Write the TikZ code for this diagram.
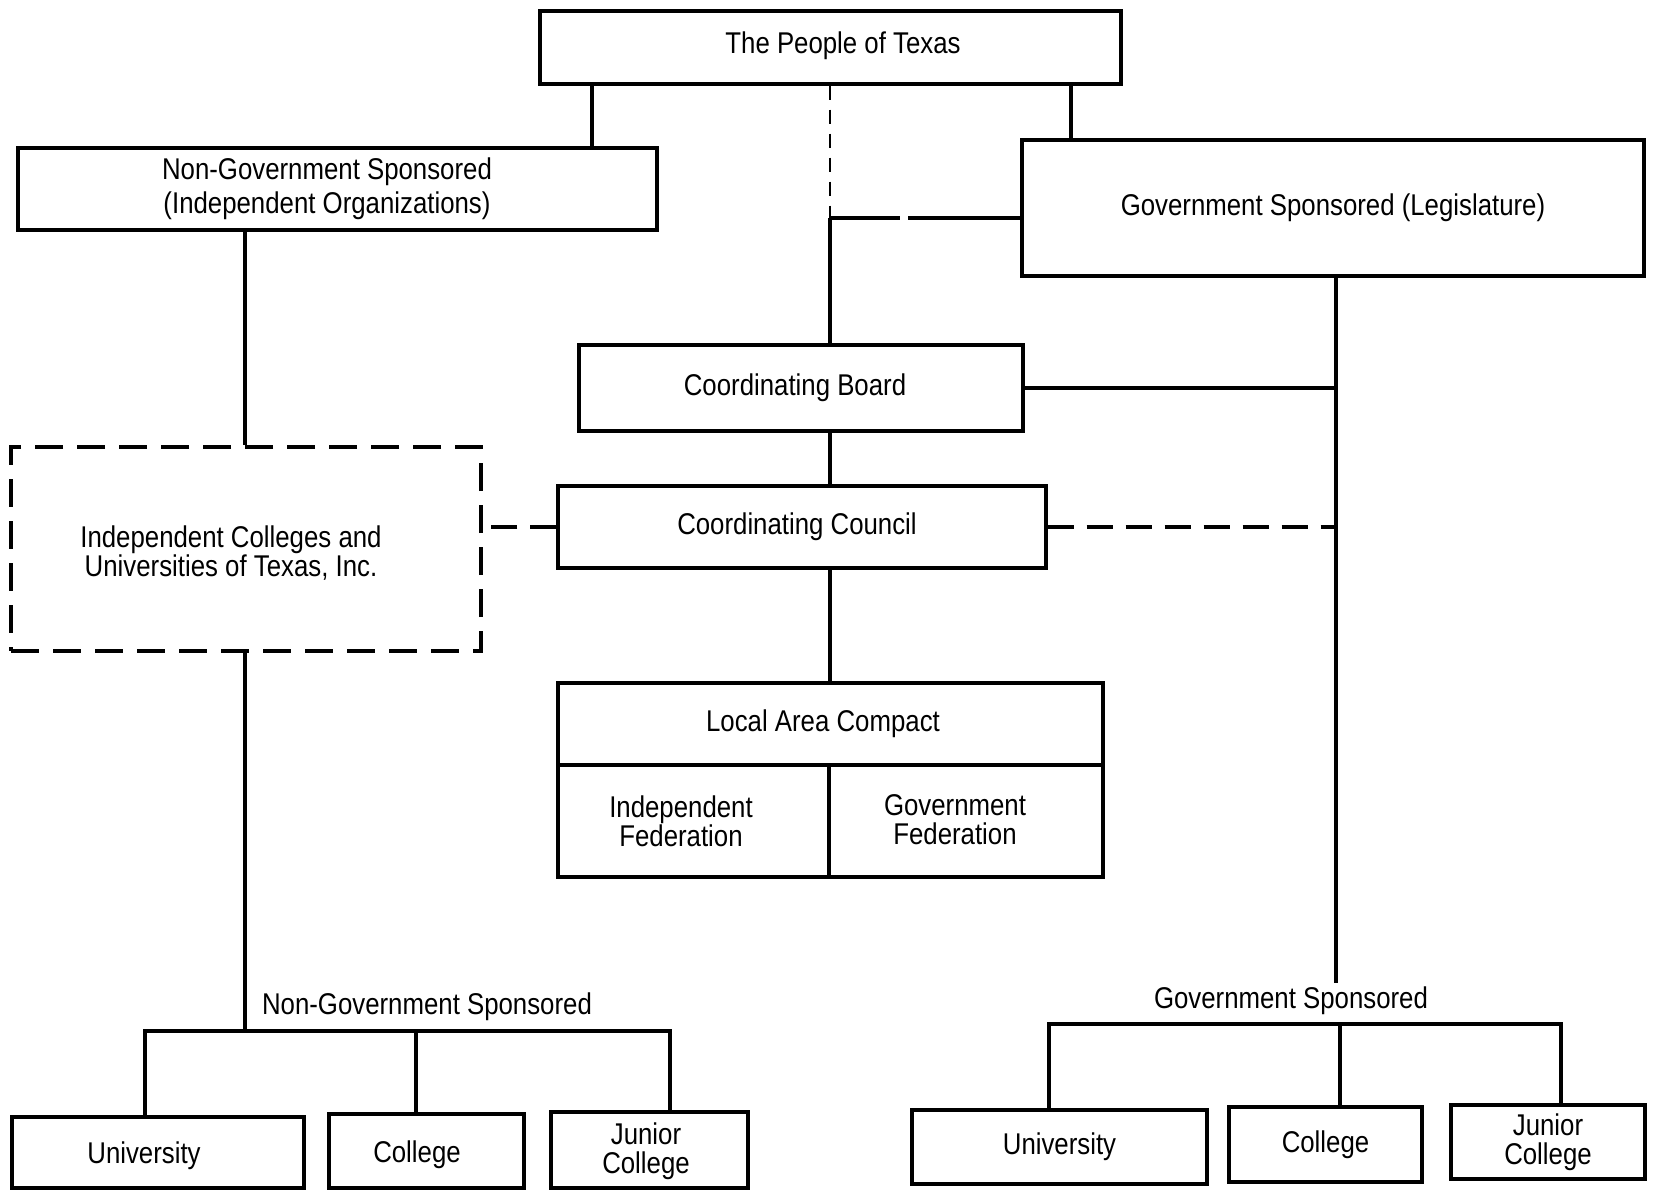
\documentclass[tikz,border=0pt]{standalone}
\usepackage{fontspec}
\setmainfont{Liberation Sans}[FakeStretch=0.86]
\begin{document}
\begin{tikzpicture}[x=1pt,y=-1pt,line width=3.3pt,
  txt/.style={font=\fontsize{30}{29}\selectfont},
  box/.style={draw,rectangle,inner sep=0pt,align=center,txt},
  dbox/.style={box,dash pattern=on 28pt off 14pt},
  lbl/.style={inner sep=0pt,txt},
  dline/.style={dash pattern=on 26pt off 13pt},
  gapline/.style={dash pattern=on 70pt off 8pt on 300pt off 0pt},
  sdash/.style={line width=2.6pt,dash pattern=on 14pt off 10pt}]
\useasboundingbox (0,0) rectangle (1653,1190);
\fill[white] (0,0) rectangle (1653,1190);
% boxes
\node[box,minimum width=581pt,minimum height=73pt] (people) at (830.5,47.5) {};
\node[lbl] (peoplet) at (843,46) {The People of Texas};
\node[box,minimum width=639pt,minimum height=82pt] (nongov) at (337.5,189) {};
\node[lbl,align=center,font=\fontsize{30}{34}\selectfont] (nongovt) at (327,189) {Non-Government Sponsored\\(Independent Organizations)};
\node[box,minimum width=622pt,minimum height=136pt] (gov) at (1333,208) {Government Sponsored (Legislature)};
\node[box,minimum width=444pt,minimum height=86pt] (board) at (801,388) {};
\node[lbl] (boardt) at (795,388) {Coordinating Board};
\node[box,minimum width=488pt,minimum height=82pt] (council) at (802,527) {};
\node[lbl] (councilt) at (797,527) {Coordinating Council};
\node[dbox,minimum width=470pt,minimum height=204pt] (icu) at (246,549) {};
\node[lbl,align=center] (icut) at (231,553) {Independent Colleges and\\Universities of Texas, Inc.};
\node[box,minimum width=545pt,minimum height=82pt] (lactop) at (830.5,724) {};
\node[lbl] (lactopt) at (823,724) {Local Area Compact};
\node[box,minimum width=271pt,minimum height=112pt] (lacl) at (693.5,821) {};
\node[lbl,align=center] (laclt) at (681,821) {Independent\\Federation};
\node[box,minimum width=274pt,minimum height=112pt] (lacr) at (966,821) {};
\node[lbl,align=center] (lacrt) at (955,820) {Government\\Federation};
% bottom left
\node[box,minimum width=292pt,minimum height=71pt] (ng1) at (158,1152.5) {};
\node[lbl] (ng1t) at (144,1156) {University};
\node[box,minimum width=195pt,minimum height=74pt] (ng2) at (426.5,1151) {};
\node[lbl] (ng2t) at (417,1155) {College};
\node[box,minimum width=197pt,minimum height=76pt] (ng3) at (649.5,1150) {};
\node[lbl,align=center] (ng3t) at (646,1151) {Junior\\College};
% bottom right
\node[box,minimum width=295pt,minimum height=74pt] (g1) at (1059.5,1147) {University};
\node[box,minimum width=193pt,minimum height=75pt] (g2) at (1325.5,1144.5) {College};
\node[box,minimum width=194pt,minimum height=74pt] (g3) at (1548,1142) {Junior\\College};
% labels
\node[lbl] (ngl) at (427,1007) {Non-Government Sponsored};
\node[lbl] (gl) at (1291,1001) {Government Sponsored};
% coordinates
\coordinate (xL) at (592,0);
\coordinate (xM) at (830,0);
\coordinate (xR) at (1071,0);
\coordinate (xG) at (1336,0);
\coordinate (xI) at (245,0);
\coordinate (jn) at (830,218);
\coordinate (gend) at (1336,983);
\coordinate (nbar) at (0,1031);
\coordinate (gbar) at (0,1024);
\coordinate (na) at (145,0);
\coordinate (nb) at (416,0);
\coordinate (nc) at (670,0);
\coordinate (ga) at (1049,0);
\coordinate (gb) at (1340,0);
\coordinate (gc) at (1561,0);
% connectors
\draw (people.south -| xL) -- (nongov.north -| xL);
\draw (people.south -| xR) -- (gov.north -| xR);
\draw[sdash] (people.south -| xM) -- (jn);
\draw[gapline] (jn) -- (jn -| gov.west);
\draw (jn) -- (board.north -| xM);
\draw (board.south -| xM) -- (council.north -| xM);
\draw (council.south -| xM) -- (lactop.north -| xM);
\draw (board.east) -- (board.east -| xG);
\draw (gov.south -| xG) -- (gend);
\draw[dline] (council.east) -- (council.east -| xG);
\draw[dline] (council.west) -- (council.west -| icu.east);
\draw (nongov.south -| xI) -- (icu.north -| xI);
\draw (icu.south -| xI) -- (xI |- nbar);
% left bar
\draw (na |- ng1.north) -- (na |- nbar) -- (nc |- nbar) -- (nc |- ng3.north);
\draw (nb |- nbar) -- (nb |- ng2.north);
% right bar
\draw (ga |- g1.north) -- (ga |- gbar) -- (gc |- gbar) -- (gc |- g3.north);
\draw (gb |- gbar) -- (gb |- g2.north);
\end{tikzpicture}
\end{document}
